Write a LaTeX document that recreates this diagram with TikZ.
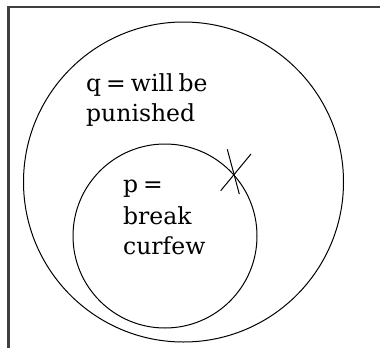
\documentclass[tikz,border=0pt]{standalone}
\usepackage{fontspec}
\setmainfont{DejaVu Serif}
\begin{document}
\begin{tikzpicture}[x=1pt,y=-1pt,
  frame/.style={draw=black!75,line width=2.2pt},
  setcircle/.style={draw=black,line width=1pt},
  lbl/.style={inner sep=0pt,anchor=base west,font=\fontsize{23.5}{28}\selectfont},
  crossline/.style={draw=black,line width=1pt}]
\useasboundingbox (0,0) rectangle (380,348);
% frame (left and top sides)
\coordinate (fbl) at (8.5,348);
\coordinate (ftl) at (8.5,7);
\coordinate (ftr) at (380,7);
\draw[frame] (fbl) -- (ftl) -- (ftr);
% circles
\node[setcircle,circle,minimum size=320pt,inner sep=0pt] (Q) at (183.5,182) {};
\node[setcircle,circle,minimum size=184pt,inner sep=0pt] (P) at (165,236) {};
% labels
\node[lbl] (q1) at (86,91) {q\hspace{5pt}=\hspace{5pt}will\hspace{5pt}be};
\node[lbl] (q2) at (86,121) {punished};
\node[lbl] (p1) at (123,192) {p\hspace{5pt}=};
\node[lbl] (p2) at (123,224) {break};
\node[lbl] (p3) at (123,254) {curfew};
% cross mark
\coordinate (c1a) at (227.3,149.3);
\coordinate (c1b) at (239.3,194);
\coordinate (c2a) at (251,154);
\coordinate (c2b) at (220.7,190.7);
\draw[crossline] (c1a) -- (c1b);
\draw[crossline] (c2a) -- (c2b);
\end{tikzpicture}
\end{document}
